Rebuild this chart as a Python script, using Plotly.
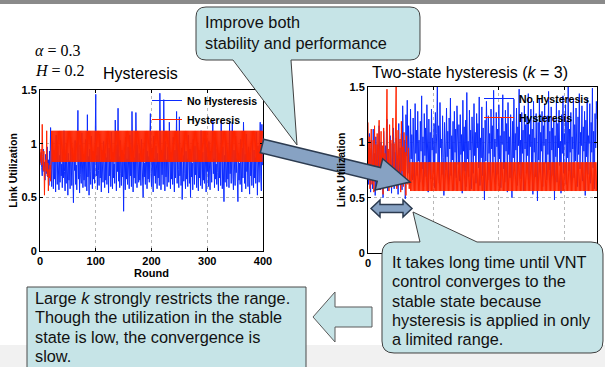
import plotly.graph_objects as go

W, H = 605, 367

# ---------------- data ----------------
left_no_hysteresis = [
    0.80,0.85,0.92,0.78,0.70,0.88,0.95,0.74,0.83,0.66,0.90,0.79,0.72,0.97,0.69,0.85,0.61,0.93,0.76,1.15,
    0.82,0.60,1.02,0.71,0.58,0.94,0.67,0.86,0.55,1.08,0.73,0.62,0.98,0.76,0.57,0.89,0.64,1.05,0.70,0.81,
    0.59,0.93,0.68,1.12,0.74,0.56,0.87,0.63,1.00,0.77,0.52,0.91,0.66,0.84,0.58,1.06,0.72,0.61,0.96,0.69,
    0.45,0.88,0.75,1.03,0.62,0.80,0.57,0.92,1.31,0.67,0.85,0.54,0.99,0.71,0.63,1.10,0.78,0.59,0.90,0.66,
    0.84,0.60,1.04,0.73,0.56,1.27,0.69,0.88,0.52,0.95,0.74,0.62,1.07,0.80,0.58,0.93,0.67,0.86,0.63,1.01,
    1.46,0.70,0.89,0.57,0.97,0.75,0.61,1.09,0.68,0.83,0.55,0.94,0.72,0.64,1.02,0.79,0.59,0.91,0.66,0.87,
    0.62,1.05,0.73,0.54,0.96,0.70,0.85,0.60,1.11,0.77,0.58,0.92,0.68,0.81,0.63,1.22,0.71,0.56,0.99,0.74,
    1.33,0.65,0.88,0.59,1.03,0.72,0.61,0.94,0.69,0.83,0.37,0.90,0.76,0.57,1.06,0.67,0.86,0.62,0.97,0.73,
    0.58,1.08,0.70,0.84,0.60,1.30,0.75,0.55,0.93,0.68,0.87,0.63,1.29,0.71,0.59,0.99,0.78,0.64,0.91,0.66,
    0.85,0.61,1.04,0.73,0.57,0.50,0.95,0.69,0.82,0.62,1.10,0.76,0.58,0.93,0.67,0.88,0.64,1.01,1.28,0.72,
    0.60,0.96,0.74,0.55,1.07,0.70,0.86,0.63,0.98,0.77,0.58,0.91,0.68,0.84,0.61,1.47,0.73,0.57,0.94,0.71,
    0.88,0.62,1.41,0.75,0.56,1.02,0.69,0.85,0.60,0.97,0.73,0.64,1.20,0.79,0.58,0.92,0.67,0.83,0.62,1.06,
    0.71,0.55,0.94,0.68,0.87,1.30,0.63,1.00,0.76,0.59,1.25,0.70,0.84,0.61,0.96,0.48,0.74,0.89,0.65,1.03,
    0.72,0.58,0.93,0.67,0.86,0.60,1.08,0.77,0.63,0.95,0.50,0.90,0.69,0.82,0.57,1.04,0.74,0.62,0.98,0.71,
    0.85,0.59,1.01,0.73,0.56,0.94,0.68,0.88,0.61,1.12,0.76,0.58,0.92,0.66,0.83,0.63,1.05,0.70,0.55,0.97,
    0.74,0.87,0.60,1.02,0.69,0.57,0.93,0.78,0.64,0.99,1.21,0.72,0.86,0.59,1.06,0.67,0.81,0.62,0.95,0.73,
    0.56,0.91,0.68,0.85,0.61,1.21,0.75,0.58,0.97,0.70,0.46,0.89,0.64,1.03,0.77,0.60,0.93,0.67,0.84,0.59,
    1.20,0.72,0.88,0.63,1.00,1.20,0.69,0.57,0.94,0.76,0.61,1.07,0.73,0.86,0.58,0.46,0.91,0.66,0.82,0.62,
    1.04,0.71,0.55,0.96,0.68,1.20,0.79,0.63,0.90,0.58,1.09,0.74,0.85,0.60,0.97,0.67,0.53,0.92,0.70,0.83,
    0.61,1.05,0.76,0.59,0.94,0.68,0.87,0.63,1.11,0.72,0.52,0.98,0.75,0.64,0.90,1.20,0.69,0.56,1.18,0.80,
]

left_hysteresis = [
    0.82,0.88,0.95,0.80,1.18,0.90,0.75,0.93,0.52,0.78,0.85,0.74,1.12,0.70,0.82,0.56,0.76,0.68,0.80,0.65,0.83,
    1.12,0.83,1.12,0.83,1.12,0.83,1.12,0.83,1.12,0.83,1.12,0.83,1.12,0.83,1.12,0.83,1.12,0.83,1.12,0.83,
    1.12,0.83,1.12,0.83,1.12,0.83,1.12,0.83,1.12,0.83,1.12,0.83,1.12,0.83,1.12,0.83,1.12,0.83,1.12,0.83,
    1.12,0.83,1.12,0.83,1.12,0.83,1.12,0.83,1.12,0.83,1.12,0.83,1.12,0.83,1.12,0.83,1.12,0.83,1.12,0.83,
    1.12,0.83,1.12,0.83,1.12,0.83,1.12,0.83,1.12,0.83,1.12,0.83,1.12,0.83,1.12,0.83,1.12,0.83,1.12,0.83,
    1.12,0.83,1.12,0.83,1.12,0.83,1.12,0.83,1.12,0.83,1.12,0.83,1.12,0.83,1.12,0.83,1.12,0.83,1.12,0.83,
    1.12,0.83,1.12,0.83,1.12,0.83,1.12,0.83,1.12,0.83,1.12,0.83,1.12,0.83,1.12,0.83,1.12,0.83,1.12,0.83,
    1.12,0.83,1.12,0.83,1.12,0.83,1.12,0.83,1.12,0.83,1.12,0.83,1.12,0.83,1.12,0.83,1.12,0.83,1.12,0.83,
    1.12,0.83,1.12,0.83,1.12,0.83,1.12,0.83,1.12,0.83,1.12,0.83,1.12,0.83,1.12,0.83,1.12,0.83,1.12,0.83,
    1.12,0.83,1.12,0.83,1.12,0.83,1.12,0.83,1.12,0.83,1.12,0.83,1.12,0.83,1.12,0.83,1.12,0.83,1.12,0.83,
    1.12,0.83,1.12,0.83,1.12,0.83,1.12,0.83,1.12,0.83,1.12,0.83,1.12,0.83,1.12,0.83,1.12,0.83,1.12,0.83,
    1.12,0.83,1.12,0.83,1.12,0.83,1.12,0.83,1.12,0.83,1.12,0.83,1.12,0.83,1.12,0.83,1.12,0.83,1.12,0.83,
    1.12,0.83,1.12,0.83,1.12,0.83,1.12,0.83,1.12,0.83,1.12,0.83,1.12,0.83,1.12,0.83,1.12,0.83,1.12,0.83,
    1.12,0.83,1.12,0.83,1.12,0.83,1.12,0.83,1.12,0.83,1.12,0.83,1.12,0.83,1.12,0.83,1.12,0.83,1.12,0.83,
    1.12,0.83,1.12,0.83,1.12,0.83,1.12,0.83,1.12,0.83,1.12,0.83,1.12,0.83,1.12,0.83,1.12,0.83,1.12,0.83,
    1.12,0.83,1.12,0.83,1.12,0.83,1.12,0.83,1.12,0.83,1.12,0.83,1.12,0.83,1.12,0.83,1.12,0.83,1.12,0.83,
    1.12,0.83,1.12,0.83,1.12,0.83,1.12,0.83,1.12,0.83,1.12,0.83,1.12,0.83,1.12,0.83,1.12,0.83,1.12,0.83,
    1.12,0.83,1.12,0.83,1.12,0.83,1.12,0.83,1.12,0.83,1.12,0.83,1.12,0.83,1.12,0.83,1.12,0.83,1.12,0.83,
    1.12,0.83,1.12,0.83,1.12,0.83,1.12,0.83,1.12,0.83,1.12,0.83,1.12,0.83,1.12,0.83,1.12,0.83,1.12,0.83,
    1.12,0.83,1.12,0.83,1.12,0.83,1.12,0.83,1.12,0.83,1.12,0.83,1.12,0.83,1.12,0.83,1.12,0.83,1.12,
]

right_no_hysteresis = [
    0.95,0.62,1.08,0.74,0.55,1.02,0.81,0.58,1.12,0.69,0.90,0.52,1.05,0.77,0.60,0.98,0.66,1.15,0.71,0.57,
    1.00,0.63,0.88,0.50,1.10,0.75,0.59,0.97,0.68,1.21,0.56,0.92,0.73,0.61,1.06,0.80,0.54,0.99,0.67,1.13,
    0.58,0.91,0.72,1.04,0.60,0.86,0.53,1.17,0.70,0.95,0.62,1.08,0.57,1.33,0.76,0.64,1.02,0.49,1.25,0.88,
    1.38,0.72,1.15,0.94,0.61,1.30,0.85,1.07,0.66,1.22,0.98,0.58,1.35,0.90,1.11,0.70,1.28,0.83,1.02,0.64,
    1.19,0.92,1.42,0.76,1.05,0.60,1.26,0.88,1.13,0.69,1.34,0.97,0.55,1.21,0.82,1.09,0.67,1.30,0.93,1.04,
    0.73,1.17,0.59,1.27,0.90,1.08,1.50,0.78,1.15,0.63,1.36,0.95,1.03,0.71,1.24,0.86,0.52,1.18,0.99,0.75,
    1.31,0.87,1.10,0.62,1.22,0.94,1.40,0.70,1.06,0.84,1.19,0.57,1.28,0.91,1.12,0.68,1.33,0.96,0.80,1.16,
    0.65,1.25,0.89,1.07,0.54,1.38,0.92,1.14,0.74,1.20,0.60,1.45,0.85,1.01,0.69,1.29,0.93,1.11,0.58,1.23,
    0.97,0.72,1.35,0.88,1.09,0.63,1.26,0.95,1.17,0.77,1.41,0.61,1.04,0.86,1.32,0.70,1.13,0.91,0.48,1.20,
    0.83,1.37,0.99,0.66,1.24,0.90,1.08,0.57,1.30,0.94,1.15,0.73,1.47,0.87,1.03,0.62,1.27,0.96,1.12,0.71,
    1.34,0.85,1.06,0.59,1.22,0.98,1.43,0.76,1.10,0.64,1.29,0.92,1.17,0.55,1.36,0.89,1.05,0.68,1.25,0.95,
    0.50,1.19,0.86,1.39,0.74,1.08,0.93,1.31,0.61,1.14,0.97,1.48,0.80,1.02,0.67,1.27,0.90,1.11,0.56,1.33,
    0.94,1.16,0.72,1.23,0.88,1.44,0.63,1.07,0.96,1.30,0.78,1.12,0.53,1.37,0.91,1.04,0.69,1.26,0.99,0.47,
    1.18,0.84,1.40,0.73,1.09,0.92,1.28,0.60,1.15,0.97,1.35,0.81,1.03,0.66,1.24,0.89,1.46,0.75,1.10,0.58,
    1.32,0.93,1.13,0.70,1.21,0.48,1.06,0.87,1.38,0.64,1.17,0.95,1.29,0.79,1.01,0.54,1.25,0.90,1.42,0.72,
    1.08,0.98,1.34,0.62,1.19,0.86,1.50,0.74,1.12,0.91,1.27,0.57,1.05,0.94,1.39,0.68,1.16,0.83,1.31,0.96,
    0.60,1.23,0.89,1.44,0.76,1.09,0.97,1.33,0.65,1.14,0.92,1.28,0.52,1.20,0.87,1.40,0.71,1.06,0.99,1.35,
    0.63,1.18,0.91,1.49,0.77,1.10,0.58,1.26,0.95,1.37,1.21,
]

right_hysteresis = [
    1.18,0.72,1.05,0.58,0.95,1.12,0.62,0.88,1.02,0.55,1.15,0.70,0.98,0.60,1.08,0.66,0.92,1.20,0.57,0.85,
    1.10,0.64,0.97,0.53,1.13,0.75,0.90,0.61,1.04,1.48,0.68,0.94,0.56,1.16,0.79,1.02,0.59,0.87,1.22,0.63,
    0.99,0.71,1.07,1.50,0.58,0.93,1.11,0.65,0.86,1.03,0.55,1.19,0.74,0.96,0.60,1.09,0.67,0.91,0.52,1.06,
    0.77,0.62,0.95,0.58,
    0.82,0.56,0.82,0.56,0.82,0.56,0.82,0.56,0.82,0.56,0.82,0.56,0.82,0.56,0.82,0.56,0.82,0.56,0.82,0.56,
    0.82,0.56,0.82,0.56,0.82,0.56,0.82,0.56,0.82,0.56,0.82,0.56,0.82,0.56,0.82,0.56,0.82,0.56,0.82,0.56,
    0.82,0.56,0.82,0.56,0.82,0.56,0.82,0.56,0.82,0.56,0.82,0.56,0.82,0.56,0.82,0.56,0.82,0.56,0.82,0.56,
    0.82,0.56,0.82,0.56,0.82,0.56,0.82,0.56,0.82,0.56,0.82,0.56,0.82,0.56,0.82,0.56,0.82,0.56,0.82,0.56,
    0.82,0.56,0.82,0.56,0.82,0.56,0.82,0.56,0.82,0.56,0.82,0.56,0.82,0.56,0.82,0.56,0.82,0.56,0.82,0.56,
    0.82,0.56,0.82,0.56,0.82,0.56,0.82,0.56,0.82,0.56,0.82,0.56,0.82,0.56,0.82,0.56,0.82,0.56,0.82,0.56,
    0.82,0.56,0.82,0.56,0.82,0.56,0.82,0.56,0.82,0.56,0.82,0.56,0.82,0.56,0.82,0.56,0.82,0.56,0.82,0.56,
    0.82,0.56,0.82,0.56,0.82,0.56,0.82,0.56,0.82,0.56,0.82,0.56,0.82,0.56,0.82,0.56,0.82,0.56,0.82,0.56,
    0.82,0.56,0.82,0.56,0.82,0.56,0.82,0.56,0.82,0.56,0.82,0.56,0.82,0.56,0.82,0.56,0.82,0.56,0.82,0.56,
    0.82,0.56,0.82,0.56,0.82,0.56,0.82,0.56,0.82,0.56,0.82,0.56,0.82,0.56,0.82,0.56,0.82,0.56,0.82,0.56,
    0.82,0.56,0.82,0.56,0.82,0.56,0.82,0.56,0.82,0.56,0.82,0.56,0.82,0.56,0.82,0.56,0.82,0.56,0.82,0.56,
    0.82,0.56,0.82,0.56,0.82,0.56,0.82,0.56,0.82,0.56,0.82,0.56,0.82,0.56,0.82,0.56,0.82,0.56,0.82,0.56,
    0.82,0.56,0.82,0.56,0.82,0.56,0.82,0.56,0.82,0.56,0.82,0.56,0.82,0.56,0.82,0.56,0.82,0.56,0.82,0.56,
    0.82,0.56,0.82,0.56,0.82,0.56,0.82,0.56,0.82,0.56,0.82,0.56,0.82,0.56,0.82,0.56,0.82,0.56,0.82,0.56,
    0.82,0.56,0.82,0.56,0.82,0.56,0.82,
]

x_ticks_left = [0, 100, 200, 300, 400]
x_ticks_right = [0, 100, 200, 300]
x_ticktext_right = ["0", "", "", ""]   # 100-300 are hidden under the callout in the reference
y_ticks = [0, 0.5, 1, 1.5]
series_names = ["No Hysteresis", "Hysteresis"]
panel_titles = ["Hysteresis", "Two-state hysteresis (<i>k</i> = 3)"]

# ---------------- style ----------------
BLUE = "#0b2bff"
RED = "#ff2400"
CYAN = "#c6e4e7"
ARROW = "#87a2c3"
SANS = "Liberation Sans, Arial, sans-serif"
SERIF = "Liberation Serif, Times New Roman, serif"


def px(x):
    return x / W


def py(y):
    return 1 - y / H


def pt(x, y):
    return f"{px(x):.5f},{py(y):.5f}"


def poly(points):
    return "M " + " L ".join(pt(x, y) for x, y in points) + " Z"


fig = go.Figure()
fig.add_trace(go.Scatter(x=list(range(len(left_no_hysteresis))), y=left_no_hysteresis, mode="lines",
                         line=dict(color=BLUE, width=1), name=series_names[0],
                         xaxis="x", yaxis="y", legend="legend"))
fig.add_trace(go.Scatter(x=list(range(len(left_hysteresis))), y=left_hysteresis, mode="lines",
                         line=dict(color=RED, width=1), name=series_names[1],
                         xaxis="x", yaxis="y", legend="legend"))
fig.add_trace(go.Scatter(x=list(range(len(right_no_hysteresis))), y=right_no_hysteresis, mode="lines",
                         line=dict(color=BLUE, width=1), name=series_names[0],
                         xaxis="x2", yaxis="y2", legend="legend2"))
fig.add_trace(go.Scatter(x=list(range(len(right_hysteresis))), y=right_hysteresis, mode="lines",
                         line=dict(color=RED, width=1), name=series_names[1],
                         xaxis="x2", yaxis="y2", legend="legend2"))

tickfont = dict(family=SANS, size=11, color="black", weight="bold")
axis_common = dict(showline=True, linecolor="black", linewidth=1, mirror="ticks",
                   ticks="inside", ticklen=3, tickcolor="black", showgrid=True,
                   gridcolor="#b8b8b8", griddash="dot", gridwidth=1, zeroline=False,
                   tickfont=tickfont, automargin=False)

fig.update_layout(
    width=W, height=H, margin=dict(l=0, r=0, t=0, b=0),
    paper_bgcolor="white", plot_bgcolor="white", showlegend=True,
    xaxis=dict(domain=[px(40), px(263)], range=[0, 400], tickvals=x_ticks_left, anchor="y",
               title=dict(text="Round", font=dict(family=SANS, size=11, weight="bold", color="black"), standoff=0),
               **axis_common),
    yaxis=dict(domain=[py(251), py(90)], range=[0, 1.5], tickvals=y_ticks, anchor="x",
               title=dict(text="Link Utilization", font=dict(family=SANS, size=10.5, weight="bold", color="black"), standoff=1),
               **axis_common),
    xaxis2=dict(domain=[px(368), px(597)], range=[0, 350], tickvals=x_ticks_right,
                ticktext=x_ticktext_right, anchor="y2", **axis_common),
    yaxis2=dict(domain=[py(253), py(87)], range=[0, 1.5], tickvals=y_ticks, anchor="x2",
                title=dict(text="Link Utilization", font=dict(family=SANS, size=10.5, weight="bold", color="black"), standoff=1),
                **axis_common),
    legend=dict(x=px(147), y=py(86), xanchor="left", yanchor="top", bgcolor="rgba(0,0,0,0)",
                font=dict(family=SANS, size=10.5, weight="bold", color="black"), itemwidth=30,
                tracegroupgap=0),
    legend2=dict(x=px(479), y=py(84), xanchor="left", yanchor="top", bgcolor="rgba(0,0,0,0)",
                 font=dict(family=SANS, size=10.5, weight="bold", color="black"), itemwidth=30,
                 tracegroupgap=0),
)

shapes = []
# slide decorations
shapes.append(dict(type="rect", xref="paper", yref="paper", x0=0, x1=1, y0=py(345), y1=py(367) - 0.01,
                   fillcolor="#f1f1f1", line=dict(width=0), layer="below"))
shapes.append(dict(type="rect", xref="paper", yref="paper", x0=0, x1=1, y0=py(4), y1=1.01,
                   fillcolor="#8a8a8a", line=dict(width=0), layer="above"))

# box 3 (bottom-left)
shapes.append(dict(type="rect", xref="paper", yref="paper", x0=px(27), x1=px(306), y0=py(380), y1=py(287),
                   fillcolor=CYAN, line=dict(color="#4a4a4a", width=1), layer="above"))
# left block arrow
shapes.append(dict(type="path", xref="paper", yref="paper", layer="above",
                   path=poly([(313, 317), (335, 292), (335, 307), (372, 307), (372, 327), (335, 327), (335, 342)]),
                   fillcolor=CYAN, line=dict(color="#5a5a5a", width=1)))


def callout_bottom(x0, y0, x1, y1, r, b_right, tip, b_left):
    return ("M " + pt(x0 + r, y0) + " L " + pt(x1 - r, y0) + " Q " + pt(x1, y0) + " " + pt(x1, y0 + r)
            + " L " + pt(x1, y1 - r) + " Q " + pt(x1, y1) + " " + pt(x1 - r, y1)
            + " L " + pt(b_right, y1) + " L " + pt(*tip) + " L " + pt(b_left, y1)
            + " L " + pt(x0 + r, y1) + " Q " + pt(x0, y1) + " " + pt(x0, y1 - r)
            + " L " + pt(x0, y0 + r) + " Q " + pt(x0, y0) + " " + pt(x0 + r, y0) + " Z")


def callout_top(x0, y0, x1, y1, r, b_left, tip, b_right):
    return ("M " + pt(x0 + r, y0) + " L " + pt(b_left, y0) + " L " + pt(*tip) + " L " + pt(b_right, y0)
            + " L " + pt(x1 - r, y0) + " Q " + pt(x1, y0) + " " + pt(x1, y0 + r)
            + " L " + pt(x1, y1 - r) + " Q " + pt(x1, y1) + " " + pt(x1 - r, y1)
            + " L " + pt(x0 + r, y1) + " Q " + pt(x0, y1) + " " + pt(x0, y1 - r)
            + " L " + pt(x0, y0 + r) + " Q " + pt(x0, y0) + " " + pt(x0 + r, y0) + " Z")


shapes.append(dict(type="path", xref="paper", yref="paper", layer="above",
                   path=callout_top(382, 242, 603, 353, 12, 420, (413, 212), 477),
                   fillcolor=CYAN, line=dict(color="#404040", width=1)))
shapes.append(dict(type="path", xref="paper", yref="paper", layer="above",
                   path=callout_bottom(196, 7, 420, 60, 10, 291, (297, 145), 233),
                   fillcolor=CYAN, line=dict(color="#404040", width=1)))
# big arrow
shapes.append(dict(type="path", xref="paper", yref="paper", layer="above",
                   path=poly([(263.7, 139.2), (380.5, 167.6), (382.7, 158.8), (410, 182),
                              (375.1, 190.0), (377.2, 181.2), (260.3, 152.8)]),
                   fillcolor=ARROW, line=dict(color="#2c3b50", width=1.5)))
# double arrow
shapes.append(dict(type="path", xref="paper", yref="paper", layer="above",
                   path=poly([(371, 208.5), (380, 200), (380, 204.5), (403, 204.5), (403, 200), (412, 208.5),
                              (403, 217), (403, 212.5), (380, 212.5), (380, 217)]),
                   fillcolor=ARROW, line=dict(color="#2c3b50", width=1.5)))
fig.update_layout(shapes=shapes)

annotations = []


def text(t, x, y, size=16.3, family=SANS, xanchor="left", color="#111111"):
    annotations.append(dict(text=t, x=px(x), y=py(y), xref="paper", yref="paper", showarrow=False,
                            xanchor=xanchor, yanchor="middle",
                            font=dict(family=family, size=size, color=color)))


text("<i>α</i> = 0.3", 33, 50, size=16, family=SERIF, color="black")
text("<i>H</i> = 0.2", 33, 70, size=16, family=SERIF, color="black")
text(panel_titles[0], 140, 74, size=16, xanchor="center", color="black")
text(panel_titles[1], 470, 73, size=16, xanchor="center", color="black")

for i, line in enumerate(["Improve both", "stability and performance"]):
    text(line, 203, 22 + i * 21)
for i, line in enumerate(["It takes long time until VNT", "control converges to the", "stable state because",
                          "hysteresis is applied in only", "a limited range."]):
    text(line, 390, 262 + i * 19.3)
for i, line in enumerate(["Large <i>k</i> strongly restricts the range.", "Though the utilization in the stable",
                          "state is low, the convergence is", "slow."]):
    text(line, 33, 298 + i * 19.3)

fig.update_layout(annotations=annotations)

fig.write_html("out.html", config={"displayModeBar": False},
               post_script="document.body.style.margin='0';document.body.style.padding='0';")
